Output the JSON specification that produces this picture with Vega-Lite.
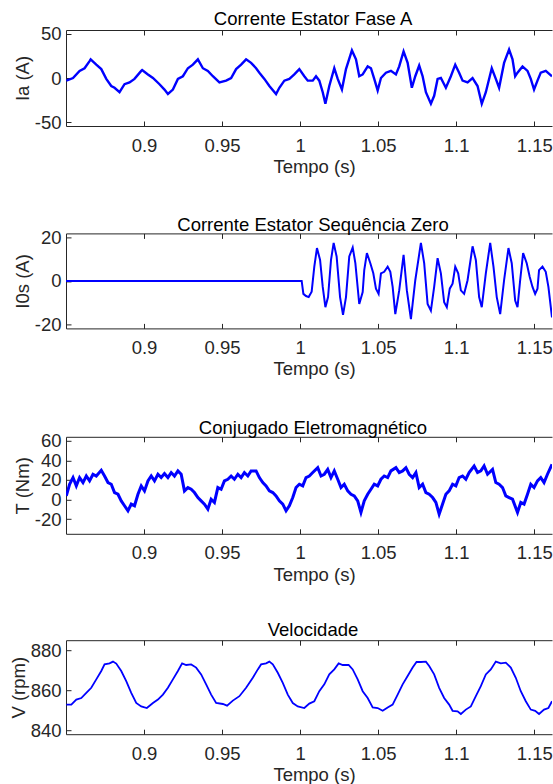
{
  "$schema": "https://vega.github.io/schema/vega-lite/v6.json",
  "background": "white",
  "padding": {"left": 9, "top": 10, "right": 0, "bottom": 0},
  "config": {
    "font": "Liberation Sans",
    "view": {"stroke": null},
    "axis": {
      "labelFont": "Liberation Sans",
      "titleFont": "Liberation Sans",
      "labelFontSize": 18.5,
      "titleFontSize": 18.5,
      "titleFontWeight": "normal",
      "labelColor": "#262626",
      "titleColor": "#262626",
      "domainColor": "#262626",
      "tickColor": "#262626",
      "tickSize": -5,
      "grid": false,
      "domainWidth": 1,
      "tickWidth": 1,
      "labelExpr": "'' + datum.value"
    },
    "axisX": {"labelPadding": 15, "titlePadding": 3},
    "axisY": {"labelPadding": 10, "titlePadding": 2},
    "title": {"font": "Liberation Sans", "fontSize": 18.5, "fontWeight": "normal", "color": "#000000", "frame": "group", "dx": 4}
  },
  "datasets": {
    "ia": [
      {"t":0.8502,"v":-3},{"t":0.8545,"v":0},{"t":0.8587,"v":8},{"t":0.8619,"v":11},{"t":0.8651,"v":19},{"t":0.8658,"v":21},{"t":0.8694,"v":15},{"t":0.8726,"v":10},{"t":0.8758,"v":-1},{"t":0.879,"v":-9},{"t":0.8811,"v":-11},{"t":0.8843,"v":-16},{"t":0.8875,"v":-7},{"t":0.8907,"v":-5},{"t":0.8939,"v":-1},{"t":0.8982,"v":8},{"t":0.8988,"v":9},{"t":0.9025,"v":4},{"t":0.9057,"v":0},{"t":0.9099,"v":-7},{"t":0.9131,"v":-13},{"t":0.9153,"v":-18},{"t":0.9185,"v":-13},{"t":0.9217,"v":-1},{"t":0.9249,"v":2},{"t":0.9281,"v":11},{"t":0.9313,"v":15},{"t":0.9345,"v":21},{"t":0.9377,"v":11},{"t":0.9409,"v":8},{"t":0.9441,"v":2},{"t":0.9483,"v":-5},{"t":0.9526,"v":-3},{"t":0.9558,"v":0},{"t":0.959,"v":10},{"t":0.9622,"v":15},{"t":0.9654,"v":21},{"t":0.9686,"v":17},{"t":0.9718,"v":11},{"t":0.9739,"v":6},{"t":0.9771,"v":-1},{"t":0.9803,"v":-9},{"t":0.9846,"v":-18},{"t":0.9867,"v":-11},{"t":0.9899,"v":-3},{"t":0.9931,"v":-1},{"t":0.9963,"v":4},{"t":0.9995,"v":10},{"t":1.0027,"v":2},{"t":1.0049,"v":-3},{"t":1.0081,"v":-3},{"t":1.0102,"v":2},{"t":1.0123,"v":-3},{"t":1.0145,"v":-16},{"t":1.0162,"v":-29},{"t":1.0187,"v":-9},{"t":1.0219,"v":11},{"t":1.0241,"v":-1},{"t":1.0268,"v":-13},{"t":1.0294,"v":10},{"t":1.0332,"v":31},{"t":1.0358,"v":21},{"t":1.0379,"v":2},{"t":1.0401,"v":4},{"t":1.0433,"v":13},{"t":1.0454,"v":11},{"t":1.0475,"v":-1},{"t":1.0497,"v":-14},{"t":1.0518,"v":0},{"t":1.055,"v":6},{"t":1.0582,"v":8},{"t":1.0614,"v":4},{"t":1.0635,"v":13},{"t":1.0663,"v":30},{"t":1.0689,"v":17},{"t":1.0716,"v":-11},{"t":1.0738,"v":2},{"t":1.0763,"v":14},{"t":1.0785,"v":2},{"t":1.0806,"v":-16},{"t":1.0838,"v":-29},{"t":1.0859,"v":-20},{"t":1.0881,"v":-1},{"t":1.0902,"v":0},{"t":1.0934,"v":-11},{"t":1.0966,"v":2},{"t":1.0994,"v":15},{"t":1.1019,"v":6},{"t":1.1041,"v":-3},{"t":1.1073,"v":-5},{"t":1.1105,"v":0},{"t":1.1137,"v":-9},{"t":1.1164,"v":-29},{"t":1.119,"v":-16},{"t":1.1228,"v":11},{"t":1.1254,"v":-1},{"t":1.1275,"v":-11},{"t":1.1307,"v":17},{"t":1.1339,"v":32},{"t":1.1361,"v":21},{"t":1.1378,"v":2},{"t":1.1393,"v":6},{"t":1.1425,"v":13},{"t":1.1457,"v":8},{"t":1.1478,"v":-1},{"t":1.1499,"v":-13},{"t":1.1521,"v":-3},{"t":1.1542,"v":6},{"t":1.1574,"v":8},{"t":1.1614,"v":2}
    ],
    "i0": [
      {"t":0.85,"v":0},{"t":1.001,"v":0},{"t":1.0021,"v":-6},{"t":1.0038,"v":-7},{"t":1.0055,"v":-7.5},{"t":1.0074,"v":-5},{"t":1.0091,"v":6.6},{"t":1.0108,"v":15.2},{"t":1.0128,"v":9.7},{"t":1.0145,"v":-2.8},{"t":1.0162,"v":-12.2},{"t":1.0179,"v":-7.5},{"t":1.0198,"v":9.7},{"t":1.0215,"v":17.6},{"t":1.0234,"v":11.3},{"t":1.0256,"v":-7.5},{"t":1.0275,"v":-15.7},{"t":1.0294,"v":-7.5},{"t":1.0315,"v":11.3},{"t":1.0337,"v":15.5},{"t":1.0354,"v":8.2},{"t":1.0379,"v":-10.7},{"t":1.0401,"v":-5.2},{"t":1.0411,"v":5},{"t":1.0428,"v":12.9},{"t":1.045,"v":8.2},{"t":1.0469,"v":3.5},{"t":1.0486,"v":-3.6},{"t":1.0503,"v":-6},{"t":1.0518,"v":3.5},{"t":1.0539,"v":4.2},{"t":1.0561,"v":6.6},{"t":1.0578,"v":4.2},{"t":1.0593,"v":-2.8},{"t":1.061,"v":-15.4},{"t":1.0635,"v":-4.4},{"t":1.0663,"v":12.1},{"t":1.0684,"v":-4.4},{"t":1.071,"v":-17.7},{"t":1.0738,"v":0.3},{"t":1.0774,"v":17.6},{"t":1.0795,"v":8.2},{"t":1.0817,"v":-10.7},{"t":1.0838,"v":-13.8},{"t":1.0859,"v":-2.8},{"t":1.0881,"v":10.5},{"t":1.0902,"v":3.5},{"t":1.0923,"v":-9.9},{"t":1.094,"v":-12.2},{"t":1.0959,"v":-3.6},{"t":1.0977,"v":-1.3},{"t":1.0994,"v":6.6},{"t":1.1013,"v":3.5},{"t":1.103,"v":-4.4},{"t":1.1051,"v":-6},{"t":1.1073,"v":0.3},{"t":1.1105,"v":16},{"t":1.1126,"v":9.7},{"t":1.1147,"v":-7.5},{"t":1.1164,"v":-12.2},{"t":1.119,"v":3.5},{"t":1.1218,"v":17.6},{"t":1.1239,"v":6.6},{"t":1.126,"v":-7.5},{"t":1.1282,"v":-15.4},{"t":1.1307,"v":0.3},{"t":1.1335,"v":15.2},{"t":1.1356,"v":8.2},{"t":1.1378,"v":-9.1},{"t":1.1393,"v":-12.2},{"t":1.141,"v":0.3},{"t":1.1429,"v":12.9},{"t":1.1452,"v":8.2},{"t":1.1471,"v":1.9},{"t":1.1489,"v":-2.8},{"t":1.1506,"v":-6},{"t":1.1521,"v":-3.6},{"t":1.1531,"v":5},{"t":1.1553,"v":6.6},{"t":1.1574,"v":4.2},{"t":1.1591,"v":-2.8},{"t":1.1614,"v":-16.9}
    ],
    "te": [
      {"t":0.8502,"v":3.7},{"t":0.8523,"v":15.6},{"t":0.8545,"v":22.4},{"t":0.8566,"v":13.9},{"t":0.8587,"v":22.4},{"t":0.8609,"v":17.3},{"t":0.863,"v":24},{"t":0.8651,"v":19},{"t":0.8673,"v":25.8},{"t":0.8694,"v":24},{"t":0.8726,"v":29.8},{"t":0.8747,"v":24},{"t":0.8769,"v":17.3},{"t":0.879,"v":15.6},{"t":0.8811,"v":7.1},{"t":0.8833,"v":5.4},{"t":0.8854,"v":-1.4},{"t":0.8875,"v":-6.4},{"t":0.8897,"v":-11.5},{"t":0.8918,"v":-4.7},{"t":0.8939,"v":-6.4},{"t":0.8961,"v":5.4},{"t":0.8982,"v":13.9},{"t":0.9003,"v":8.8},{"t":0.9025,"v":19},{"t":0.9046,"v":24},{"t":0.9067,"v":19},{"t":0.9089,"v":25.8},{"t":0.911,"v":22.4},{"t":0.9131,"v":26.4},{"t":0.9153,"v":22.4},{"t":0.9174,"v":27.5},{"t":0.9195,"v":24},{"t":0.9217,"v":29.2},{"t":0.9238,"v":25.8},{"t":0.9259,"v":8.8},{"t":0.9281,"v":12.2},{"t":0.9302,"v":10.5},{"t":0.9323,"v":7.1},{"t":0.9345,"v":2},{"t":0.9366,"v":-1.4},{"t":0.9387,"v":-4.7},{"t":0.9409,"v":-9.8},{"t":0.943,"v":0.3},{"t":0.9451,"v":-3},{"t":0.9473,"v":12.2},{"t":0.9494,"v":10.5},{"t":0.9515,"v":19},{"t":0.9537,"v":20.7},{"t":0.9558,"v":24},{"t":0.9579,"v":20.7},{"t":0.9601,"v":25.8},{"t":0.9622,"v":22.4},{"t":0.9643,"v":27.5},{"t":0.9665,"v":24},{"t":0.9686,"v":29.2},{"t":0.9718,"v":29.2},{"t":0.9739,"v":22.4},{"t":0.9761,"v":17.3},{"t":0.9782,"v":13.9},{"t":0.9803,"v":8.8},{"t":0.9825,"v":7.1},{"t":0.9846,"v":3.7},{"t":0.9867,"v":-1.4},{"t":0.9889,"v":-4.7},{"t":0.991,"v":-11.5},{"t":0.9931,"v":-6.4},{"t":0.9953,"v":2},{"t":0.9974,"v":12.2},{"t":0.9995,"v":15.6},{"t":1.0017,"v":13.9},{"t":1.0038,"v":22.4},{"t":1.0059,"v":24},{"t":1.0081,"v":27.5},{"t":1.0113,"v":32.5},{"t":1.0134,"v":24},{"t":1.0155,"v":25.8},{"t":1.0177,"v":30.8},{"t":1.0198,"v":22.4},{"t":1.0219,"v":29.2},{"t":1.0241,"v":20.7},{"t":1.0262,"v":12.2},{"t":1.0283,"v":15.6},{"t":1.0305,"v":8.8},{"t":1.0326,"v":5.4},{"t":1.0347,"v":3.7},{"t":1.0369,"v":-1.4},{"t":1.039,"v":-13.2},{"t":1.0411,"v":-1.4},{"t":1.0433,"v":5.4},{"t":1.0454,"v":10.5},{"t":1.0475,"v":15.6},{"t":1.0497,"v":13.9},{"t":1.0518,"v":20.7},{"t":1.0539,"v":24},{"t":1.0561,"v":22.4},{"t":1.0582,"v":29.2},{"t":1.0614,"v":32.5},{"t":1.0635,"v":27.5},{"t":1.0657,"v":29.2},{"t":1.0678,"v":32.5},{"t":1.0699,"v":25.8},{"t":1.0721,"v":22.4},{"t":1.0742,"v":27.5},{"t":1.0763,"v":12.2},{"t":1.0785,"v":15.6},{"t":1.0806,"v":7.1},{"t":1.0827,"v":5.4},{"t":1.0849,"v":2},{"t":1.087,"v":-3},{"t":1.0891,"v":-14.9},{"t":1.0913,"v":-4.7},{"t":1.0934,"v":5.4},{"t":1.0955,"v":8.8},{"t":1.0977,"v":15.6},{"t":1.0998,"v":13.9},{"t":1.1019,"v":22.4},{"t":1.1041,"v":24},{"t":1.1062,"v":20.7},{"t":1.1083,"v":27.5},{"t":1.1115,"v":34.2},{"t":1.1137,"v":27.5},{"t":1.1158,"v":29.2},{"t":1.1179,"v":34.2},{"t":1.1201,"v":25.8},{"t":1.1233,"v":30.8},{"t":1.1254,"v":17.3},{"t":1.1275,"v":15.6},{"t":1.1297,"v":12.2},{"t":1.1318,"v":3.7},{"t":1.1339,"v":2},{"t":1.1361,"v":0.3},{"t":1.1393,"v":-13.2},{"t":1.1414,"v":-3},{"t":1.1435,"v":-4.7},{"t":1.1457,"v":5.4},{"t":1.1478,"v":15.6},{"t":1.1499,"v":12.2},{"t":1.1521,"v":19},{"t":1.1542,"v":22.4},{"t":1.1563,"v":17.3},{"t":1.1585,"v":25.8},{"t":1.1614,"v":35.9}
    ],
    "vel": [
      {"t":0.8502,"v":852.8},{"t":0.8534,"v":852.8},{"t":0.8566,"v":855.3},{"t":0.8598,"v":856.1},{"t":0.863,"v":858.7},{"t":0.8662,"v":861.2},{"t":0.8694,"v":865.4},{"t":0.8726,"v":869.6},{"t":0.8747,"v":872.9},{"t":0.8779,"v":873.4},{"t":0.8801,"v":874.3},{"t":0.8822,"v":873.3},{"t":0.8854,"v":869.6},{"t":0.8886,"v":864.5},{"t":0.8918,"v":858.7},{"t":0.895,"v":853.6},{"t":0.8982,"v":851.9},{"t":0.9018,"v":851.1},{"t":0.9057,"v":853.6},{"t":0.9089,"v":855.3},{"t":0.9121,"v":857.8},{"t":0.9153,"v":861.2},{"t":0.9185,"v":865.4},{"t":0.9217,"v":869.6},{"t":0.9244,"v":873.4},{"t":0.927,"v":872.6},{"t":0.9302,"v":872.9},{"t":0.9334,"v":871.3},{"t":0.9366,"v":867.9},{"t":0.9398,"v":862.9},{"t":0.943,"v":857.8},{"t":0.9462,"v":853.6},{"t":0.9505,"v":853.1},{"t":0.9532,"v":852.3},{"t":0.9569,"v":854.8},{"t":0.9611,"v":857},{"t":0.9654,"v":861.2},{"t":0.9697,"v":866.2},{"t":0.9729,"v":870.4},{"t":0.975,"v":872.9},{"t":0.9782,"v":873.4},{"t":0.9803,"v":874.3},{"t":0.9825,"v":872.9},{"t":0.9857,"v":868.7},{"t":0.9889,"v":863.7},{"t":0.9921,"v":857.8},{"t":0.9953,"v":853.6},{"t":0.9985,"v":851.9},{"t":1.0027,"v":851.1},{"t":1.0059,"v":853.3},{"t":1.0091,"v":854.5},{"t":1.0123,"v":859.5},{"t":1.0155,"v":862.9},{"t":1.0187,"v":867.9},{"t":1.0219,"v":870.4},{"t":1.0247,"v":873.4},{"t":1.0273,"v":872.6},{"t":1.0311,"v":872.6},{"t":1.0337,"v":870.4},{"t":1.0369,"v":865.4},{"t":1.0401,"v":859.5},{"t":1.0433,"v":856.1},{"t":1.0465,"v":851.4},{"t":1.0497,"v":851.1},{"t":1.0529,"v":849.7},{"t":1.0561,"v":851.4},{"t":1.0593,"v":852.8},{"t":1.0625,"v":857.8},{"t":1.0657,"v":862.9},{"t":1.0689,"v":867.1},{"t":1.0721,"v":871.3},{"t":1.0746,"v":874.1},{"t":1.0774,"v":874.1},{"t":1.0806,"v":874.3},{"t":1.0827,"v":872.1},{"t":1.0859,"v":867.9},{"t":1.0891,"v":861.2},{"t":1.0923,"v":856.1},{"t":1.0955,"v":852.8},{"t":1.0977,"v":849.7},{"t":1.1009,"v":849.4},{"t":1.103,"v":848.1},{"t":1.1062,"v":850.3},{"t":1.1094,"v":851.9},{"t":1.1126,"v":857},{"t":1.1158,"v":862},{"t":1.119,"v":867.9},{"t":1.1222,"v":870.4},{"t":1.1254,"v":874.3},{"t":1.1286,"v":873.4},{"t":1.1318,"v":873.8},{"t":1.135,"v":871.3},{"t":1.1382,"v":866.2},{"t":1.1414,"v":859.5},{"t":1.1446,"v":854.5},{"t":1.1478,"v":850.3},{"t":1.1506,"v":849.7},{"t":1.1531,"v":848.1},{"t":1.1563,"v":850.3},{"t":1.1591,"v":851.1},{"t":1.1614,"v":854.5}
    ]
  },
  "vconcat": [
    {
      "width": 486, "height": 96,
      "title": {"text": "Corrente Estator Fase A", "offset": -4},
      "data": {"name": "ia"},
      "resolve": {"axis": {"x": "independent"}},
      "layer": [
        {"mark": {"type": "line", "color": "#0000ff", "strokeWidth": 2.4, "clip": true},
         "encoding": {
           "x": {"field": "t", "type": "quantitative", "scale": {"domain": [0.85, 1.1614], "nice": false, "zero": false},
                 "axis": {"orient": "bottom", "values": [0.9, 0.95, 1, 1.05, 1.1, 1.15], "title": "Tempo (s)", "titleX": 248}},
           "y": {"field": "v", "type": "quantitative", "scale": {"domain": [-54, 54], "nice": false, "zero": false},
                 "axis": {"values": [-50, 0, 50], "title": "Ia (A)"}}
         }},
        {"mark": {"type": "point", "opacity": 0},
         "encoding": {
           "x": {"field": "t", "type": "quantitative", "axis": {"orient": "top", "values": [0.9, 0.95, 1, 1.05, 1.1, 1.15], "labels": false, "title": null}}
         }}
      ]
    },
    {
      "width": 486, "height": 95,
      "title": {"text": "Corrente Estator Sequência Zero", "offset": -6},
      "data": {"name": "i0"},
      "resolve": {"axis": {"x": "independent"}},
      "layer": [
        {"mark": {"type": "line", "color": "#0000ff", "strokeWidth": 2, "clip": true},
         "encoding": {
           "x": {"field": "t", "type": "quantitative", "scale": {"domain": [0.85, 1.1614], "nice": false, "zero": false},
                 "axis": {"orient": "bottom", "values": [0.9, 0.95, 1, 1.05, 1.1, 1.15], "title": "Tempo (s)", "titleX": 248}},
           "y": {"field": "v", "type": "quantitative", "scale": {"domain": [-22, 22], "nice": false, "zero": false},
                 "axis": {"values": [-20, 0, 20], "title": "I0s (A)"}}
         }},
        {"mark": {"type": "point", "opacity": 0},
         "encoding": {
           "x": {"field": "t", "type": "quantitative", "axis": {"orient": "top", "values": [0.9, 0.95, 1, 1.05, 1.1, 1.15], "labels": false, "title": null}}
         }}
      ]
    },
    {
      "width": 486, "height": 97,
      "title": {"text": "Conjugado Eletromagnético", "offset": -6},
      "data": {"name": "te"},
      "resolve": {"axis": {"x": "independent"}},
      "layer": [
        {"mark": {"type": "line", "color": "#0000ff", "strokeWidth": 3, "clip": true},
         "encoding": {
           "x": {"field": "t", "type": "quantitative", "scale": {"domain": [0.85, 1.1614], "nice": false, "zero": false},
                 "axis": {"orient": "bottom", "values": [0.9, 0.95, 1, 1.05, 1.1, 1.15], "title": "Tempo (s)", "titleX": 248}},
           "y": {"field": "v", "type": "quantitative", "scale": {"domain": [-35, 64], "nice": false, "zero": false},
                 "axis": {"values": [-20, 0, 20, 40, 60], "title": "T (Nm)"}}
         }},
        {"mark": {"type": "point", "opacity": 0},
         "encoding": {
           "x": {"field": "t", "type": "quantitative", "axis": {"orient": "top", "values": [0.9, 0.95, 1, 1.05, 1.1, 1.15], "labels": false, "title": null}}
         }}
      ]
    },
    {
      "width": 486, "height": 94,
      "title": {"text": "Velocidade", "offset": 0},
      "data": {"name": "vel"},
      "resolve": {"axis": {"x": "independent"}},
      "layer": [
        {"mark": {"type": "line", "color": "#0000ff", "strokeWidth": 1.8, "clip": true},
         "encoding": {
           "x": {"field": "t", "type": "quantitative", "scale": {"domain": [0.85, 1.1614], "nice": false, "zero": false},
                 "axis": {"orient": "bottom", "values": [0.9, 0.95, 1, 1.05, 1.1, 1.15], "title": "Tempo (s)", "titleX": 248}},
           "y": {"field": "v", "type": "quantitative", "scale": {"domain": [838, 885], "nice": false, "zero": false},
                 "axis": {"values": [840, 860, 880], "title": "V (rpm)"}}
         }},
        {"mark": {"type": "point", "opacity": 0},
         "encoding": {
           "x": {"field": "t", "type": "quantitative", "axis": {"orient": "top", "values": [0.9, 0.95, 1, 1.05, 1.1, 1.15], "labels": false, "title": null}}
         }}
      ]
    }
  ],
  "spacing": 106.4,
  "bounds": "flush",
  "align": "all"
}
